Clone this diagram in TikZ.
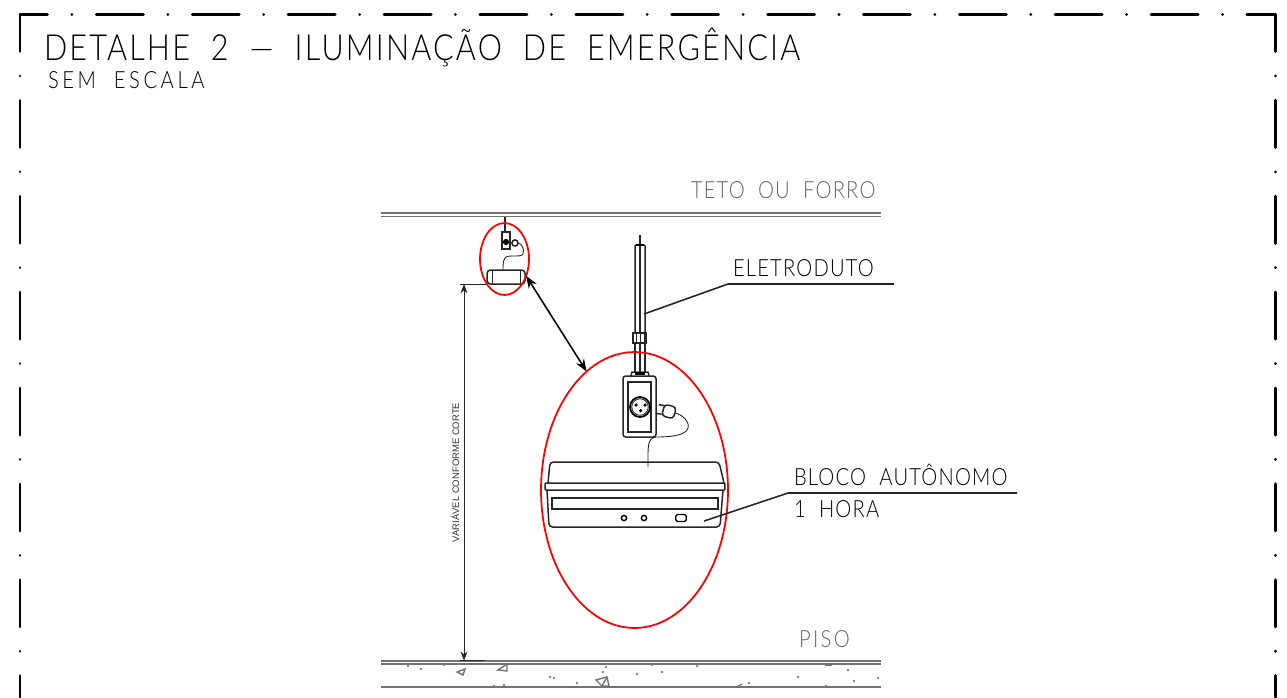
\documentclass[tikz,border=0pt]{standalone}
\usepackage{fontspec}
\setmainfont{Liberation Sans}
\newfontfamily\cadfont[FakeStretch=0.85,LetterSpace=5,WordSpace=2]{Lato Light}
\newfontfamily\cadtitle[FakeStretch=0.85,LetterSpace=6,WordSpace=2]{Lato Light}
\newfontfamily\cadmid[FakeStretch=0.85,LetterSpace=10,WordSpace=2]{Lato Light}
\newfontfamily\cadwide[FakeStretch=0.85,LetterSpace=15,WordSpace=2]{Lato Light}
\usetikzlibrary{arrows.meta, positioning, shapes.geometric}

\begin{document}
\begin{tikzpicture}[
    x=0.02cm,
    y=-0.02cm,
    >=Stealth,
    every node/.style={inner sep=0pt, outer sep=0pt},
    frameline/.style={line width=1.7pt, black, line cap=round, dash pattern=on 0.94cm off 0.4885cm on 0.001cm off 0.4885cm},
    slabline/.style={line width=1pt, black!55},
    thinline/.style={line width=0.5pt, black!85},
    partline/.style={line width=0.85pt, black!85},
    leaderline/.style={line width=0.9pt, black!85},
    marker/.style={ellipse, draw=red, line width=1pt},
    cadtext/.style={font=\cadfont\fontsize{13.5}{13.5}\selectfont, anchor=base west, text=black},
    greytext/.style={cadtext, text=black!60},
    grit/.style={fill=black!50, circle, minimum size=1.5pt},
    stone/.style={draw=black!55, line width=0.8pt}
]
\useasboundingbox (0,0) rectangle (1287,697);

% Frame
\coordinate (corner) at (20,14.5);
\coordinate (cornerR) at (1275.5,14.5);
\coordinate (leftend) at (20,697);
\coordinate (rightend) at (1275.5,697);
\draw[frameline, dash phase=0.39cm] (corner) -- (cornerR);
\draw[frameline, dash phase=0.2cm] (corner) -- (leftend);
\draw[frameline, dash phase=0.2cm] (cornerR) -- (rightend);

% Titles
\node[cadtext, font=\cadtitle\fontsize{20.5}{20.5}\selectfont] (title) at (44,60) {DETALHE 2 — ILUMINAÇÃO DE EMERGÊNCIA};
\node[cadtext, font=\cadwide\fontsize{13.5}{13.5}\selectfont] (scale) at (48,88) {SEM ESCALA};

% Ceiling and floor
\coordinate (ceilL) at (381,212.7);
\coordinate (ceilR) at (881,212.7);
\coordinate (ceilLb) at (381,216.5);
\coordinate (ceilRb) at (881,216.5);
\coordinate (floorL) at (381,660.7);
\coordinate (floorR) at (881,660.7);
\coordinate (floorLb) at (381,664.3);
\coordinate (floorRb) at (881,664.3);
\coordinate (floorLc) at (381,687);
\coordinate (floorRc) at (881,687);
\draw[slabline] (ceilL) -- (ceilR);
\draw[slabline] (ceilLb) -- (ceilRb);
\draw[slabline] (floorL) -- (floorR);
\draw[slabline] (floorLb) -- (floorRb);
\draw[slabline] (floorLc) -- (floorRc);
\node[greytext] (teto) at (691,198) {TETO OU FORRO};
\node[greytext, font=\cadmid\fontsize{13.5}{13.5}\selectfont] (piso) at (799,647) {PISO};

% Concrete
\foreach \gx/\gy in {408/666,421/669,444/665,606/667,603/672,550/677,554/678,577/683,637/674,652/665,662/672,697/666,504/685,749/683,798/677,826/686,848/670,854/681,878/678,494/686}
    \node[grit] at (\gx,\gy) {};
\draw[stone] (457,672) -- (465,669) -- (463,675) -- cycle;
\draw[stone] (498,670) -- (507,664) -- (507,671) -- cycle;
\draw[stone] (596,680) -- (607,677) -- (609,686) -- (602,686) -- cycle;
\draw[stone] (607,677) -- (602,686);
\draw[stone] (737,687) -- (742,684);
\draw[stone] (825,665.5) -- (832,665.5);

% Small view
\coordinate (miniTop) at (505,217);
\coordinate (miniBox) at (505,232);
\node[draw, partline, minimum width=0.16cm, minimum height=0.34cm] (minisocket) at (506,240.5) {};
\node[fill=black, circle, minimum size=3.5pt] (minihole) at (506,242) {};
\node[draw, partline, circle, minimum size=3.5pt] (miniplug) at (515,243) {};
\draw[partline] (miniTop) -- (miniBox);
\draw[thinline] (miniplug.east) .. controls (521,243) and (525,249) .. (523,254)
    .. controls (521,258) and (507,254) .. (505,258) .. controls (503,261) and (503,265) .. (503,270);
\node[draw, partline, rounded corners=2pt, minimum width=0.76cm, minimum height=0.28cm] (miniblock) at (506,277) {};
\draw[thinline] (miniblock.north west) ++(5,0) -- ++(0,14);
\draw[thinline] (miniblock.north east) ++(-5,0) -- ++(0,14);

% Conduit
\node[draw, partline, minimum width=0.2cm, minimum height=1.76cm, rounded corners=0.5pt] (conduit) at (640,289) {};
\coordinate (conduitTop) at (640,235);
\coordinate (conduitEnd) at (640,372);
\draw[partline] (conduitTop) -- (conduitEnd);
\draw[line width=1.6pt, black] (636,245) -- (644,245);
\node[draw, partline, minimum width=0.26cm, minimum height=0.2cm, fill=white] (nut) at (639.5,338) {};
\draw[thinline] (636,333) -- (636,343) (640,333) -- (640,343) (644,333) -- (644,343);
\draw[partline] (nut.south) ++(-4.5,0) -- ++(0,29);
\draw[partline] (nut.south) ++(5.5,0) -- ++(0,29);
\draw[partline] (nut.south) ++(0.5,0) -- ++(0,29);

% Outlet box
\node[draw, partline, rounded corners=1.5pt, minimum width=0.66cm, minimum height=1.22cm] (outlet) at (639.5,406.5) {};
\draw[partline] (631,376) -- (632,372) -- (648,372) -- (649,376);
\draw[line width=1.8pt, black] (635,373.5) -- (645,373.5);
\node[draw, partline, minimum width=0.46cm, minimum height=1cm] (plate) at (639.5,407) {};
\node[draw, line width=1pt, circle, minimum size=0.4cm] (socket) at (640,407) {};
\node[draw, thinline, circle, minimum size=0.33cm] (socketin) at (socket) {};
\node[fill=black, circle, minimum size=2pt] (holeA) at (636,405) {};
\node[fill=black, circle, minimum size=2pt] (holeB) at (645,405) {};
\node[fill=black, circle, minimum size=2pt] (holeC) at (640.5,410.5) {};

% Plug and cord
\node[draw, partline, rotate=-15, minimum width=0.24cm, minimum height=0.24cm, rounded corners=2pt] (plug) at (669,411.5) {};
\draw[partline] (plug.north west) ++(0,1.5) -- ++(-6,-1);
\draw[partline] (plug.south west) ++(0,-1.5) -- ++(-6,-1);
\draw[thinline] (plug.east) .. controls (682,414) and (690,422) .. (688,428)
    .. controls (686,436) and (668,437) .. (656,437)
    .. controls (647,438) and (648,447) .. (648,467);

% Emergency light
\node[draw, partline, minimum width=3.6cm, minimum height=0.14cm, rounded corners=0.5pt] (lid) at (635,486.5) {};
\draw[partline, rounded corners=2pt] (lid.north west) ++(3,0) -- (550,462) -- (719,462) -- (724,483);
\draw[partline, rounded corners=2pt] (lid.south west) ++(2,0) -- (549,527) -- (720,527) -- (723,490);
\node[draw, partline, minimum width=3.32cm, minimum height=0.22cm] (lens) at (635,503.5) {};
\node[draw, line width=0.8pt, circle, minimum size=3pt] (ledA) at (624,518) {};
\node[draw, line width=0.8pt, circle, minimum size=3pt] (ledB) at (644,518) {};
\node[draw, line width=0.8pt, rounded corners=1pt, minimum width=6pt, minimum height=4pt] (testkey) at (681,518) {};

% Markers
\node[marker, minimum width=0.98cm, minimum height=1.44cm] (ringsmall) at (504.5,259) {};
\node[marker, minimum width=3.74cm, minimum height=5.52cm] (ringbig) at (634.5,490) {};
\draw[<->, line width=0.9pt] (ringsmall.-38.7) -- (ringbig.112);

% Leaders
\coordinate (conduitpt) at (644,314);
\coordinate (eletroA) at (728,284);
\coordinate (eletroB) at (894,284);
\draw[leaderline] (conduitpt) -- (eletroA) -- (eletroB);
\node[cadtext] (eletro) at (733,276) {ELETRODUTO};
\coordinate (blocopt) at (704,521);
\coordinate (blocoA) at (788,493);
\coordinate (blocoB) at (1017,493);
\draw[leaderline] (blocopt) -- (blocoA) -- (blocoB);
\node[cadtext] (bloco) at (794,485) {BLOCO AUTÔNOMO};
\node[cadtext] (hora) at (794,517) {1 HORA};

% Height dimension
\coordinate (dimT) at (464,284);
\coordinate (dimB) at (464,660.7);
\coordinate (extT) at (460,284);
\coordinate (extTb) at (487,284);
\coordinate (extB) at (460,660.7);
\coordinate (extBb) at (485,660.7);
\draw[thinline] (extT) -- (extTb);
\draw[partline] (extB) -- (extBb);
\draw[<->, thinline] (dimT) -- (dimB);
\node[rotate=90, text=black!80, font=\fontsize{5.4}{5.4}\selectfont] (dimlabel) at (455,472.5) {VARIÁVEL CONFORME CORTE};

\end{tikzpicture}
\end{document}
